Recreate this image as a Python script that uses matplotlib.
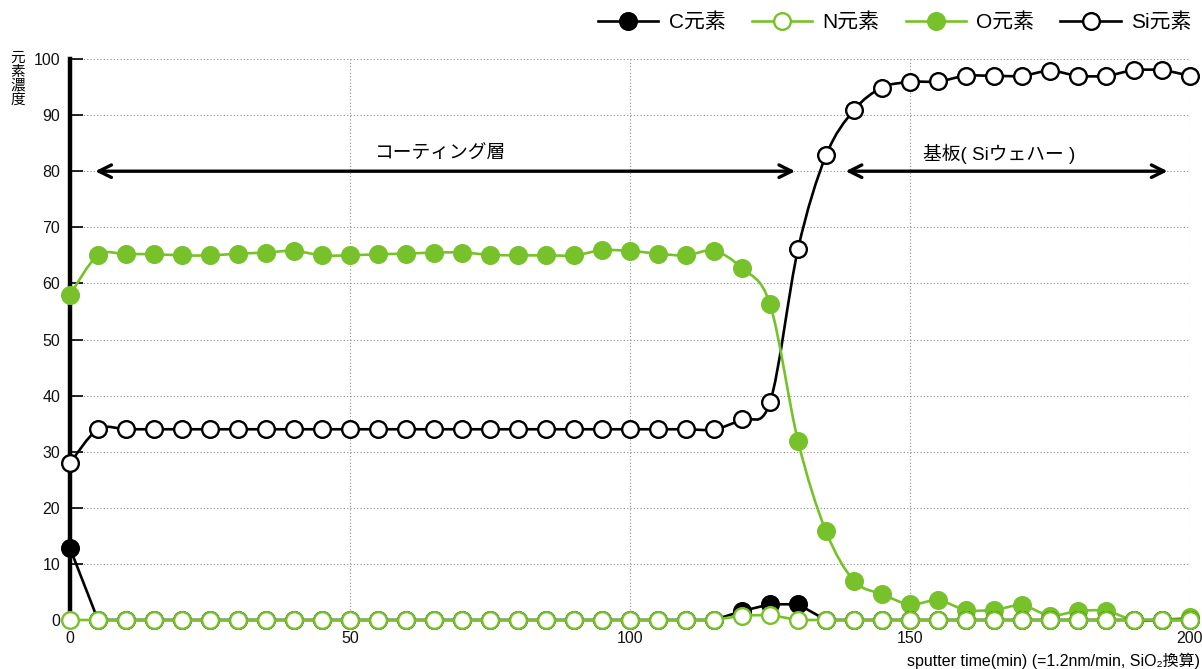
import numpy as np
import matplotlib
matplotlib.use("Agg")
import matplotlib.pyplot as plt
from matplotlib.path import Path
from matplotlib.patches import PathPatch
from matplotlib.lines import Line2D

plt.rcParams['font.family'] = ['Liberation Sans', 'Noto Sans CJK JP', 'DejaVu Sans']

time = list(range(0, 201, 5))
c_vals = [12.8] + [0]*23 + [1.6, 2.8, 2.8] + [0]*14
n_vals = [0]*24 + [0.8, 0.9] + [0]*15
o_vals = [58, 65, 65.2, 65.2, 65, 65, 65.3, 65.5, 65.8, 65, 65, 65.2, 65.3, 65.5, 65.5,
          65.1, 65, 65, 65, 65.9, 65.8, 65.3, 65, 65.8, 62.7, 56.3, 31.9, 15.8, 7.0, 4.6,
          2.8, 3.5, 1.8, 1.8, 2.6, 0.8, 1.6, 1.6, 0, 0, 0.5]
si_vals = [28] + [34]*23 + [35.8, 38.8, 66.1, 82.8, 90.9, 94.9, 95.9, 96, 97, 97, 97,
                            97.9, 97, 97, 98, 98, 97]

GREEN = "#77C12A"
series = [
    ("C元素", c_vals, "black", "black", 5, False),
    ("N元素", n_vals, GREEN, "white", 6, False),
    ("O元素", o_vals, GREEN, GREEN, 4, True),
    ("Si元素", si_vals, "black", "white", 3, True),
]

fig = plt.figure(figsize=(12.02, 6.69), dpi=100)
ax = fig.add_axes([70/1202, 49/669, 1120/1202, 561/669])
ax.set_xlim(0, 200)
ax.set_ylim(0, 100)


def line_path(x, y, smooth):
    pts = np.column_stack([np.asarray(x, float), np.asarray(y, float)])
    n = len(pts)
    if not smooth:
        return Path(pts)
    verts = [pts[0]]
    codes = [Path.MOVETO]
    for i in range(n - 1):
        p0 = pts[i - 1] if i > 0 else pts[i]
        p1 = pts[i]
        p2 = pts[i + 1]
        p3 = pts[i + 2] if i + 2 < n else pts[i + 1]
        c1 = p1 + (p2 - p0) / 6.0
        c2 = p2 - (p3 - p1) / 6.0
        verts += [c1, c2, p2]
        codes += [Path.CURVE4] * 3
    return Path(verts, codes)


MS = 12
handles = []
for name, vals, col, fc, z, smooth in series:
    patch = PathPatch(line_path(time, vals, smooth), facecolor='none', edgecolor=col,
                      lw=1.9, zorder=z, clip_on=False)
    ax.add_patch(patch)
    ax.plot(time, vals, linestyle='none', marker='o', markersize=MS,
            markerfacecolor=fc, markeredgecolor=col, markeredgewidth=1.7,
            zorder=z + 0.5, clip_on=False)
    handles.append(Line2D([], [], color=col, lw=1.9, marker='o', markersize=MS,
                          markerfacecolor=fc, markeredgecolor=col,
                          markeredgewidth=1.7, label=name))

# grid
ax.set_yticks(range(0, 101, 10))
ax.set_xticks(range(0, 201, 50))
ax.grid(True, which='major', axis='both', linestyle=(0, (1, 2)), color='#8c8c8c', lw=0.8)
ax.set_axisbelow(True)
for s in ['top', 'right', 'bottom']:
    ax.spines[s].set_visible(False)
ax.spines['left'].set_linewidth(3.2)
ax.spines['left'].set_zorder(2)
ax.tick_params(axis='y', direction='in', length=9, width=1.2, labelsize=11.5, pad=7)
ax.tick_params(axis='x', length=0, labelsize=11.5, pad=8)
for lab in ax.get_yticklabels() + ax.get_xticklabels():
    lab.set_color('#111111')

# arrows and labels
arrow_kw = dict(arrowstyle='<->,head_length=0.9,head_width=0.45', lw=2.4, color='black',
                shrinkA=0, shrinkB=0)
ax.annotate('', xy=(4.5, 80), xytext=(129.5, 80), arrowprops=arrow_kw)
ax.annotate('', xy=(138.5, 80), xytext=(196, 80), arrowprops=arrow_kw)
ax.text(66, 83, 'コーティング層', ha='center', va='center', fontsize=13.5)
ax.text(166, 83, '基板( Siウェハー )', ha='center', va='center', fontsize=13.5)

# y label (vertical stacked)
fig.text(18/1202, 1 - 51/669, '元\n素\n濃\n度', ha='center', va='top', fontsize=10.5,
         linespacing=1.0)

# x label
fig.text(1200/1202, 1 - 661/669, 'sputter time(min) (=1.2nm/min, SiO₂換算)',
         ha='right', va='center', fontsize=11.5)

fig.legend(handles=handles, loc='upper right', bbox_to_anchor=(1.0, 0.997), ncol=4,
           frameon=False, fontsize=15, handlelength=2.9, columnspacing=1.25,
           handletextpad=0.5, borderaxespad=0.1)

fig.savefig('out.png', dpi=100)
